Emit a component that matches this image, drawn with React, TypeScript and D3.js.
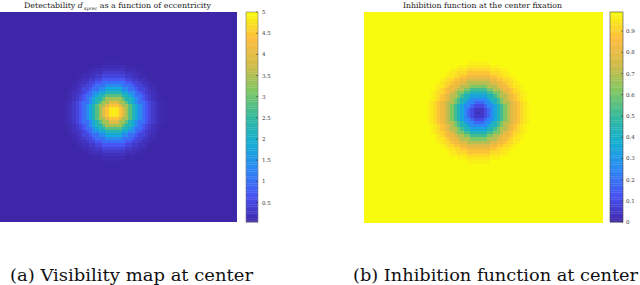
import React from "react";
import * as d3 from "d3";

// ---- data ----
const GRID_COLS = 72;
const GRID_ROWS = 64;
// blob centre cell (column, row)
const leftCenter = [34, 30];
const rightCenter = [34, 30];
// radial profiles by integer cell distance (last entry = background)
const visibilityProfile = [4.95, 4.8, 4.45, 3.95, 3.4, 2.8, 2.25, 1.8, 1.35, 1.0, 0.7, 0.48, 0.32, 0.2, 0.12, 0.07, 0.04];
const inhibitionProfile = [0.03, 0.05, 0.1, 0.17, 0.25, 0.34, 0.43, 0.52, 0.61, 0.7, 0.77, 0.83, 0.88, 0.92, 0.95, 0.97, 0.99];
const visibilityTicks = [0.5, 1, 1.5, 2, 2.5, 3, 3.5, 4, 4.5, 5];
const inhibitionTicks = [0, 0.1, 0.2, 0.3, 0.4, 0.5, 0.6, 0.7, 0.8, 0.9];
const visibilityDomain = [0.04, 5];
const inhibitionDomain = [0, 0.99];
const titleLeft = "Detectability ";
const titleLeftRest = " as a function of eccentricity";
const titleRight = "Inhibition function at the center fixation";
const captionLeft = "(a) Visibility map at center";
const captionRight = "(b) Inhibition function at center";

// parula colormap stops
const parulaStops = [0, 0.125, 0.25, 0.375, 0.5, 0.625, 0.75, 0.875, 1];
const parulaColors = ["#3e26a8", "#4852f4", "#2d87f5", "#13aed5", "#33b99d", "#80c763", "#d2bb48", "#fdbd3d", "#f9fb0e"];

const parula = d3.scaleLinear<string>().domain(parulaStops).range(parulaColors).interpolate(d3.interpolateRgb).clamp(true);

const SERIF = "DejaVu Serif";

type PanelProps = {
  x0: number; x1: number; y0: number; y1: number;
  profile: number[]; center: number[]; domain: number[];
  ticks: number[]; cbX: number; cbW: number; cbY0: number; cbY1: number;
  labelX: number; cbBorder: string; fmt: (v: number) => string;
};

function Heatmap(p: PanelProps) {
  const xs = d3.scaleBand<number>().domain(d3.range(GRID_COLS)).range([p.x0, p.x1]);
  const ys = d3.scaleBand<number>().domain(d3.range(GRID_ROWS)).range([p.y0, p.y1]);
  const norm = d3.scaleLinear().domain(p.domain).range([0, 1]).clamp(true);
  const cells: JSX.Element[] = [];
  for (let r = 0; r < GRID_ROWS; r++) {
    for (let c = 0; c < GRID_COLS; c++) {
      const dist = Math.round(Math.hypot(c - p.center[0], r - p.center[1]));
      const v = p.profile[Math.min(dist, p.profile.length - 1)];
      cells.push(
        <rect key={r * GRID_COLS + c} x={xs(c)} y={ys(r)} width={xs.bandwidth() + 0.4} height={ys.bandwidth() + 0.4}
          fill={parula(norm(v))} shapeRendering="crispEdges" />
      );
    }
  }
  const cbScale = d3.scaleLinear().domain(p.domain).range([p.cbY1, p.cbY0]);
  const nBands = 120;
  const bands = d3.range(nBands).map((i) => {
    const t0 = i / nBands, t1 = (i + 1) / nBands;
    const y0 = p.cbY1 - (p.cbY1 - p.cbY0) * t1;
    const y1 = p.cbY1 - (p.cbY1 - p.cbY0) * t0;
    return <rect key={i} x={p.cbX} y={y0} width={p.cbW} height={y1 - y0 + 0.3} fill={parula((t0 + t1) / 2)} />;
  });
  return (
    <g>
      {cells}
      {bands}
      <rect x={p.cbX} y={p.cbY0} width={p.cbW} height={p.cbY1 - p.cbY0} fill="none" stroke={p.cbBorder} strokeWidth={0.6} />
      {p.ticks.map((t) => (
        <g key={t}>
          <line x1={p.cbX + p.cbW - 1.8} x2={p.cbX + p.cbW} y1={cbScale(t)} y2={cbScale(t)} stroke="#333" strokeWidth={0.6} />
          <text x={p.labelX} y={cbScale(t) + 2} fontSize={5.5} fill="#333" fontFamily={SERIF}>{p.fmt(t)}</text>
        </g>
      ))}
    </g>
  );
}

export default function App() {
  const fmt = (v: number) => d3.format("~g")(v);
  return (
    <svg width={640} height={285} style={{ position: "absolute", left: 0, top: 0, background: "#fff" }}>
      <Heatmap x0={0} x1={237} y0={12} y1={222} profile={visibilityProfile} center={leftCenter}
        domain={visibilityDomain} ticks={visibilityTicks} cbX={246} cbW={12} cbY0={12} cbY1={222}
        labelX={262} cbBorder="#777" fmt={fmt} />
      <Heatmap x0={364} x1={603} y0={12} y1={223} profile={inhibitionProfile} center={rightCenter}
        domain={inhibitionDomain} ticks={inhibitionTicks} cbX={610} cbW={13} cbY0={12} cbY1={222}
        labelX={626} cbBorder="#444" fmt={fmt} />
      <text x={24} y={8} fontSize={7.5} fill="#222" fontFamily={SERIF} textLength={187} lengthAdjust="spacingAndGlyphs">
        {titleLeft}
        <tspan fontStyle="italic">d</tspan>
        <tspan fontSize={5} dy={-2.5}>′</tspan>
        <tspan fontSize={4.5} dy={4} fontStyle="italic">sprec</tspan>
        <tspan dy={-1.5}>{titleLeftRest}</tspan>
      </text>
      <text x={403} y={8} fontSize={7.5} fill="#222" fontFamily={SERIF} textLength={159} lengthAdjust="spacingAndGlyphs">{titleRight}</text>
      <text x={10} y={281} fontSize={16} fill="#111" fontFamily={SERIF} textLength={243} lengthAdjust="spacingAndGlyphs">{captionLeft}</text>
      <text x={353} y={281} fontSize={16} fill="#111" fontFamily={SERIF} textLength={285} lengthAdjust="spacingAndGlyphs">{captionRight}</text>
    </svg>
  );
}
